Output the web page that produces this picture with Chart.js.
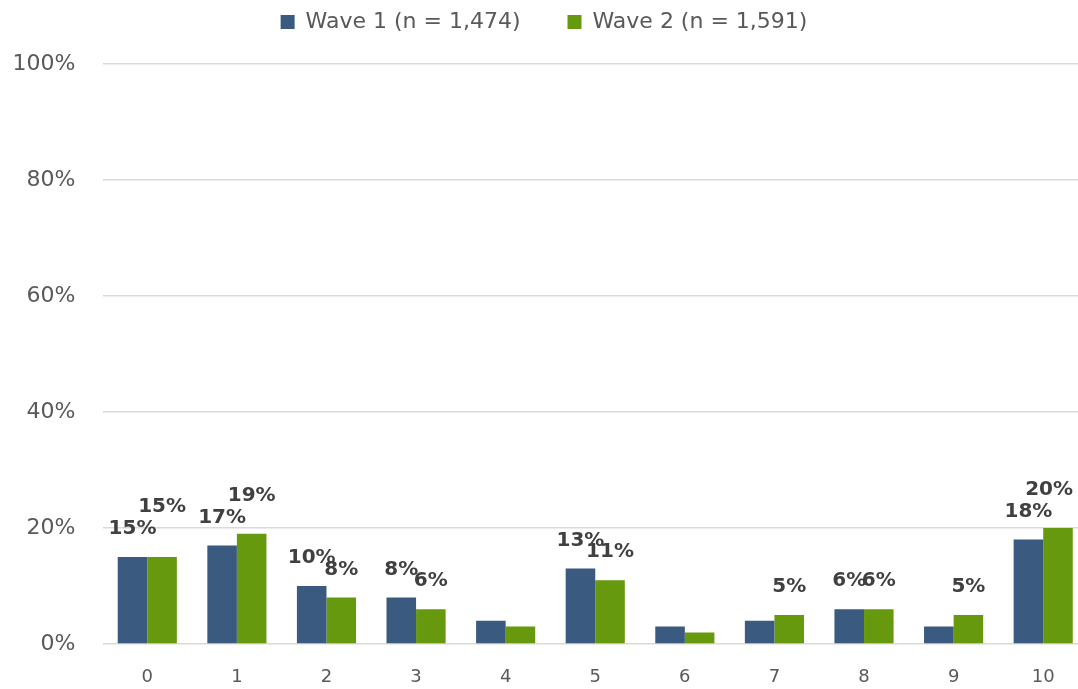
<!DOCTYPE html>
<html>
<head>
<meta charset="utf-8">
<script src="https://cdn.jsdelivr.net/npm/chart.js@4"></script>
<style>
  html, body { margin: 0; padding: 0; background: #ffffff; overflow: hidden; }
  #chart { display: block; }
</style>
</head>
<body>
<canvas id="chart" width="1088" height="689"></canvas>
<script>
// Score categories on the x axis
const categories = ['0', '1', '2', '3', '4', '5', '6', '7', '8', '9', '10'];
// Share of respondents per score (%)
const wave1 = [15, 17, 10, 8, 4, 13, 3, 4, 6, 3, 18];
const wave2 = [15, 19, 8, 6, 3, 11, 2, 5, 6, 5, 20];
// Series names
const seriesNames = ['Wave 1 (n = 1,474)', 'Wave 2 (n = 1,591)'];
// Y axis tick values (%)
const yTicks = [0, 20, 40, 60, 80, 100];

const FONT = '"DejaVu Sans", sans-serif';

// Bold value labels above the bars; small values are left unlabelled and
// a Wave 2 label that collides with the Wave 1 label is lifted above it.
const valueLabels = {
  id: 'valueLabels',
  afterDatasetsDraw(chart) {
    const ctx = chart.ctx;
    ctx.save();
    ctx.font = 'bold 20px ' + FONT;
    ctx.fillStyle = '#404040';
    ctx.textAlign = 'center';
    ctx.textBaseline = 'middle';
    const visibleRight = Math.min(chart.width, window.innerWidth) - 5;
    const placed = [];
    chart.data.datasets.forEach((ds, di) => {
      const meta = chart.getDatasetMeta(di);
      meta.data.forEach((bar, i) => {
        const v = ds.data[i];
        if (v < 5) return;
        const text = v + '%';
        const w = ctx.measureText(text).width;
        const x = Math.min(bar.x, visibleRight - w / 2);
        let y = bar.y - 28;
        const prev = di > 0 ? placed[i] : null;
        if (prev) {
          const overlap = Math.min(prev.x + prev.w / 2, x + w / 2) -
                          Math.max(prev.x - prev.w / 2, x - w / 2);
          if (overlap > 6 && v >= chart.data.datasets[0].data[i]) {
            y = prev.y - 22;
          }
        }
        ctx.fillText(text, x, y);
        if (di === 0) placed[i] = { x: x, y: y, w: w };
      });
    });
    ctx.restore();
  }
};

// Reserve a fixed band above the plot for the legend row
const legendBand = {
  id: 'legendBand',
  afterInit(chart) {
    const legend = chart.legend;
    const baseFit = legend.fit;
    legend.fit = function () {
      baseFit.call(this);
      this.height = 100;
    };
  }
};

new Chart(document.getElementById('chart'), {
  type: 'bar',
  data: {
    labels: categories,
    datasets: [
      {
        label: seriesNames[0],
        data: wave1,
        backgroundColor: '#3b5a7f',
        borderWidth: 0,
        barPercentage: 1,
        categoryPercentage: 0.66
      },
      {
        label: seriesNames[1],
        data: wave2,
        backgroundColor: '#67990f',
        borderWidth: 0,
        barPercentage: 1,
        categoryPercentage: 0.66
      }
    ]
  },
  options: {
    responsive: false,
    animation: false,
    devicePixelRatio: 1,
    layout: { padding: { top: -36, left: 0, right: 0, bottom: 0 } },
    plugins: {
      tooltip: { enabled: false },
      legend: {
        position: 'top',
        align: 'center',
        labels: {
          boxWidth: 14,
          boxHeight: 14,
          padding: 47,
          color: '#595959',
          font: { family: FONT, size: 22 }
        }
      }
    },
    scales: {
      x: {
        grid: { display: false, drawTicks: false },
        border: { display: false },
        ticks: {
          color: '#595959',
          font: { family: FONT, size: 18 },
          padding: 23
        },
        afterFit(scale) { scale.height = 45; }
      },
      y: {
        min: 0,
        max: 100,
        grid: { color: '#d9d9d9', lineWidth: 1.5, drawTicks: false },
        border: { display: false },
        ticks: {
          color: '#595959',
          font: { family: FONT, size: 22 },
          padding: 27,
          callback: (v) => v + '%'
        },
        afterBuildTicks(scale) {
          scale.ticks = yTicks.map((v) => ({ value: v }));
        },
        afterFit(scale) { scale.width = 102.5; }
      }
    }
  },
  plugins: [valueLabels, legendBand]
});
</script>
</body>
</html>
